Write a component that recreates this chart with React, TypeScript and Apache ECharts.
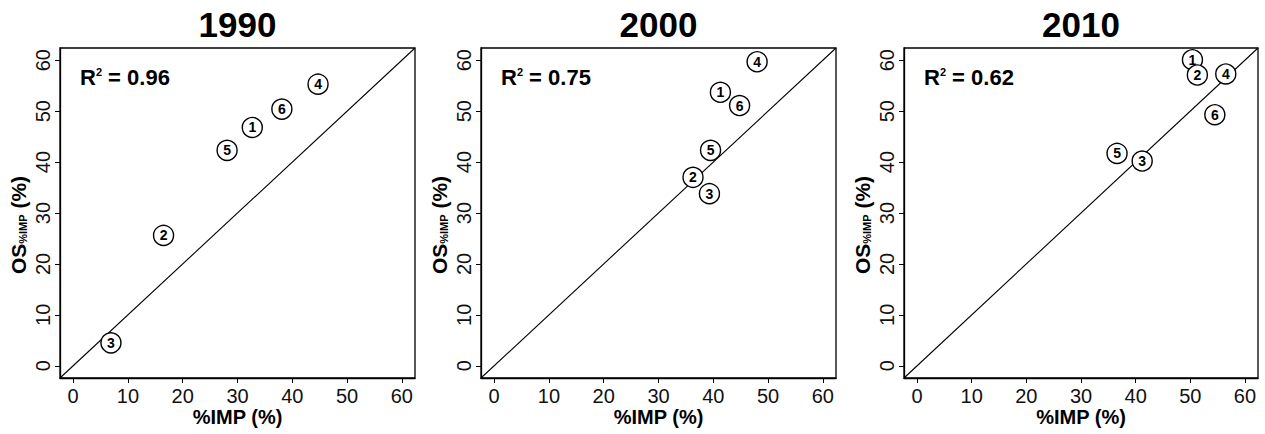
import React, { useEffect, useRef } from "react";
import * as echarts from "echarts";

const ids = ["1", "2", "3", "4", "5", "6"];
const years = ["1990", "2000", "2010"];
const r2Values = ["0.96", "0.75", "0.62"];
const imp1990 = [32.7, 16.5, 6.9, 44.7, 28.1, 38.1];
const os1990 = [46.8, 25.6, 4.5, 55.3, 42.3, 50.4];
const imp2000 = [41.3, 36.3, 39.3, 48.0, 39.5, 44.8];
const os2000 = [53.7, 37.0, 33.8, 59.7, 42.3, 51.1];
const imp2010 = [50.4, 51.3, 41.2, 56.5, 36.6, 54.5];
const os2010 = [60.1, 57.1, 40.2, 57.3, 41.7, 49.3];
const tickValues = [0, 10, 20, 30, 40, 50, 60];
const axisMin = -2.4;
const axisMax = 62.4;

const impSets = [imp1990, imp2000, imp2010];
const osSets = [os1990, os2000, os2010];

const FONT = "'Liberation Sans', Arial, Helvetica, sans-serif";
const gridLefts = [60, 481, 904];
const gridWidths = [355, 355, 354];
const gridTop = 48;
const gridHeight = 330;

export default function App() {
  const ref = useRef<HTMLDivElement>(null);
  useEffect(() => {
    if (!ref.current) return;
    const chart = echarts.init(ref.current, null, { renderer: "svg" });
    const grids = gridLefts.map((l, i) => ({
      left: l,
      top: gridTop,
      width: gridWidths[i],
      height: gridHeight,
      show: true,
      borderColor: "#000",
      borderWidth: 1.3,
      backgroundColor: "#fff",
    }));
    const axisCommon = {
      type: "value",
      min: axisMin,
      max: axisMax,
      splitLine: { show: false },
      axisLine: { show: true, onZero: false, lineStyle: { color: "#000", width: 1.3 } },
      axisTick: { show: true, inside: false, length: 5, customValues: tickValues, lineStyle: { color: "#000" } },
    };
    const xAxes = years.map((_, i) => ({
      ...axisCommon,
      gridIndex: i,
      axisLabel: {
        customValues: tickValues,
        color: "#111",
        fontFamily: FONT,
        fontSize: 20,
        margin: 8,
      },
    }));
    const yAxes = years.map((_, i) => ({
      ...axisCommon,
      gridIndex: i,
      axisLabel: {
        customValues: tickValues,
        color: "#111",
        fontFamily: FONT,
        fontSize: 20,
        rotate: 90,
        margin: 7,
      },
    }));
    const series: any[] = [];
    years.forEach((_, i) => {
      series.push({
        type: "line",
        xAxisIndex: i,
        yAxisIndex: i,
        data: [
          [axisMin, axisMin],
          [axisMax, axisMax],
        ],
        symbol: "none",
        lineStyle: { color: "#000", width: 1.1 },
        z: 1,
        silent: true,
      });
      series.push({
        type: "scatter",
        xAxisIndex: i,
        yAxisIndex: i,
        data: impSets[i].map((x, k) => [x, osSets[i][k], ids[k]]),
        symbol: "circle",
        symbolSize: 20,
        itemStyle: { color: "#fff", borderColor: "#000", borderWidth: 1.4, opacity: 1 },
        label: {
          show: true,
          position: "inside",
          formatter: (p: any) => p.value[2],
          color: "#000",
          fontFamily: FONT,
          fontSize: 14,
          fontWeight: "bold",
        },
        z: 3,
      });
    });
    const graphics: any[] = [];
    years.forEach((yr, i) => {
      const cx = gridLefts[i] + gridWidths[i] / 2;
      graphics.push({
        type: "text",
        x: cx,
        y: 24,
        style: {
          text: yr,
          font: `bold 35px ${FONT}`,
          fill: "#000",
          align: "center",
          verticalAlign: "middle",
        },
      });
      graphics.push({
        type: "text",
        x: cx,
        y: 417,
        style: {
          text: "%IMP (%)",
          font: `bold 20px ${FONT}`,
          fill: "#000",
          align: "center",
          verticalAlign: "middle",
        },
      });
      graphics.push({
        type: "text",
        x: gridLefts[i] - 42,
        y: 225,
        rotation: Math.PI / 2,
        style: {
          text: "{a|OS}{b|%IMP}{a| (%)}",
          align: "center",
          verticalAlign: "middle",
          fill: "#000",
          rich: {
            a: { fontFamily: FONT, fontSize: 21, fontWeight: "bold", fill: "#000", verticalAlign: "middle" },
            b: { fontFamily: FONT, fontSize: 11, fontWeight: "bold", fill: "#000", verticalAlign: "bottom" },
          },
        },
      });
      graphics.push({
        type: "text",
        x: gridLefts[i] + 20,
        y: 77,
        style: {
          text: `{a|R}{s|2}{a| = ${r2Values[i]}}`,
          align: "left",
          verticalAlign: "middle",
          fill: "#000",
          rich: {
            a: { fontFamily: FONT, fontSize: 22, fontWeight: "bold", fill: "#000", verticalAlign: "middle" },
            s: { fontFamily: FONT, fontSize: 11, fontWeight: "bold", fill: "#000", verticalAlign: "top" },
          },
        },
        z: 10,
      });
    });
    chart.setOption({
      animation: false,
      backgroundColor: "#fff",
      grid: grids,
      xAxis: xAxes,
      yAxis: yAxes,
      series,
      graphic: graphics,
    });
    return () => chart.dispose();
  }, []);
  return (
    <div
      ref={ref}
      style={{ position: "fixed", left: 0, top: 0, width: 1265, height: 434, background: "#fff" }}
    />
  );
}
